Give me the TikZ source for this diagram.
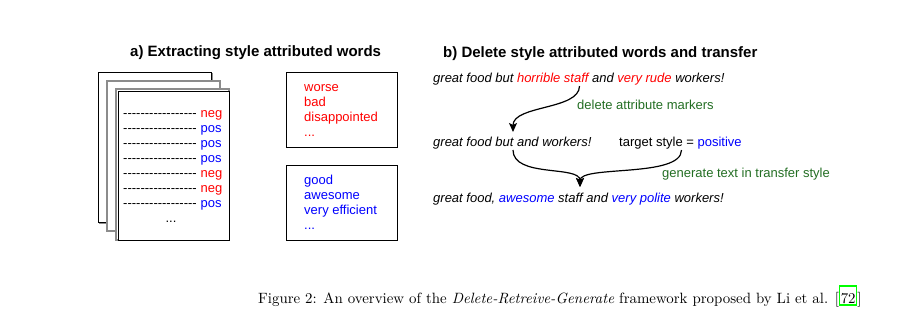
\documentclass[tikz,border=0pt]{standalone}
\usepackage{fontspec}
\newfontfamily\arialfont{Liberation Sans}
\newfontfamily\capfont{lmroman10-regular}[Extension=.otf, ItalicFont=lmroman10-italic]
\usetikzlibrary{arrows.meta}
\definecolor{negred}{RGB}{255,0,0}
\definecolor{posblue}{RGB}{0,0,255}
\definecolor{notegreen}{RGB}{35,110,35}
\definecolor{linkgreen}{RGB}{0,255,0}
\definecolor{shadowgray}{RGB}{140,140,140}
% a row of separate hyphens (kept apart so no dash ligature forms)
\newcommand\hy{\hbox{-}}
\newcommand\dashrow{\hy\hy\hy\hy\hy\hy\hy\hy\hy\hy\hy\hy\hy\hy\hy\hy\hy}

\begin{document}
\begin{tikzpicture}[x=1pt,y=-1pt,
  txt/.style={inner sep=0pt, anchor=base west, font=\arialfont\fontsize{13}{15}\selectfont},
  itxt/.style={txt, font=\arialfont\itshape\fontsize{13}{15}\selectfont},
  headline/.style={inner sep=0pt, anchor=base west, font=\arialfont\bfseries\fontsize{15}{18}\selectfont},
  negword/.style={txt, text=negred},
  posword/.style={txt, text=posblue},
  note/.style={txt, text=notegreen},
  captiontext/.style={inner sep=0pt, anchor=base west, font=\capfont\fontsize{14.9}{18}\selectfont},
  sheet/.style={draw=black, fill=white, line width=1pt},
  sheetshadow/.style={draw=shadowgray, line width=1.2pt},
  wordbox/.style={draw=black, line width=1pt},
  flow/.style={line width=1.2pt, -{Stealth[length=9pt,width=8pt,inset=2pt]}}
]
\path[use as bounding box] (0,0) rectangle (898,327);

% ---- a) stack of labelled documents ----
\draw[sheetshadow] (99.5,73.5) rectangle (212.5,223.5);
\draw[sheet] (98,72) rectangle (211,222);
\draw[sheetshadow, line width=2pt, fill=white] (107,81) rectangle (220,231);
\draw[sheetshadow, fill=white] (116,89) rectangle (229,240);
\draw[sheet] (118,91) rectangle (229,240);

\foreach \lab/\sty [count=\i from 0] in {neg/negword,pos/posword,pos/posword,pos/posword,neg/negword,neg/negword,pos/posword}{
  \node[txt] (row\i) at (123,117.5+15*\i) {\dashrow};
  \node[\sty] (lab\i) at (200.5,117.5+15*\i) {\lab};
}
\node[txt, anchor=base] (rowmore) at (171,222.5) {...};

% ---- a) attribute word lists ----
\draw[wordbox] (286,72) rectangle (397,147);
\node[negword] (w1) at (304,91) {worse};
\node[negword] (w2) at (304,106) {bad};
\node[negword] (w3) at (304,121) {disappointed};
\node[negword] (w4) at (304,136) {...};

\draw[wordbox] (286,165) rectangle (397,240);
\node[posword] (g1) at (304,184.5) {good};
\node[posword] (g2) at (304,199.5) {awesome};
\node[posword] (g3) at (304,214.5) {very efficient};
\node[posword] (g4) at (304,229.5) {...};

% ---- titles ----
\node[headline] (ta) at (130,56.5) {a) Extracting style attributed words};
\node[headline] (tb) at (443,57) {b) Delete style attributed words and transfer};

% ---- b) delete and generate ----
\node[itxt] (s1) at (433,82.5) {great food but \textcolor{negred}{horrible staff} and \textcolor{negred}{very rude} workers!};
\node[itxt] (s2) at (433,146) {great food but and workers!};
\node[txt] (tgt) at (619,146) {target style = \textcolor{posblue}{positive}};
\node[itxt] (s3) at (433,202) {great food, \textcolor{posblue}{awesome} staff and \textcolor{posblue}{very polite} workers!};
\node[note] (del) at (577,109) {delete attribute markers};
\node[note] (gen) at (662,177) {generate text in transfer style};

\coordinate (a1s) at (579.5,86);
\coordinate (a1e) at (513,132);
\draw[flow] (a1s) .. controls (579.5,110) and (513,105) .. (a1e);

\coordinate (a2l) at (513,150);
\coordinate (a2r) at (681.5,150);
\coordinate (a2e) at (580,187);
\draw[flow] (a2l) .. controls (513,178) and (580,165) .. (a2e);
\draw[flow] (a2r) .. controls (681.5,178) and (580,165) .. (a2e);

% ---- caption ----
\node[captiontext] (c1) at (258,303) {Figure 2: An overview of the \textit{Delete-Retreive-Generate} framework proposed by Li et al. [};
\node[captiontext, draw=linkgreen, line width=1.2pt, inner xsep=1pt, text height=17pt, text depth=2pt] (cref) at (c1.base east) {72};
\node[captiontext] (c2) at (cref.base east) {]};
\end{tikzpicture}
\end{document}
